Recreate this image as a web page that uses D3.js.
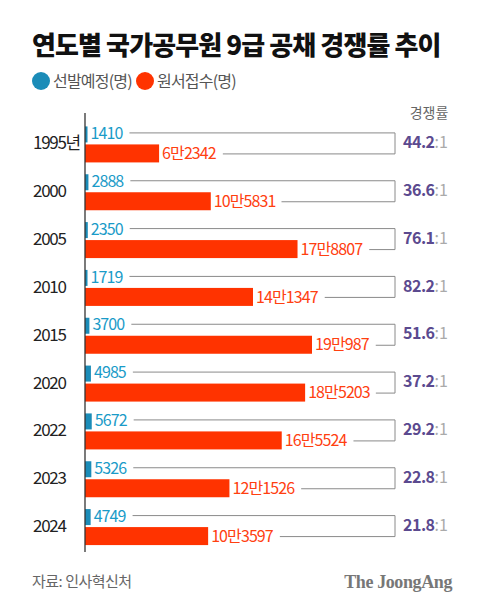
<!DOCTYPE html>
<html><head><meta charset="utf-8">
<script src="https://cdn.jsdelivr.net/npm/d3@7"></script>
<style>
body{margin:0;background:#fff;}
svg{display:block;font-family:"Noto Sans CJK KR","Noto Sans",sans-serif;}
</style></head>
<body>
<svg id="c" width="480" height="610"></svg>
<script>
const years = ["1995년","2000","2005","2010","2015","2020","2022","2023","2024"];
const selected = [1410,2888,2350,1719,3700,4985,5672,5326,4749];
const applied = [62342,105831,178807,141347,190987,185203,165524,121526,103597];
const appliedLabels = ["6만2342","10만5831","17만8807","14만1347","19만987","18만5203","16만5524","12만1526","10만3597"];
const ratios = ["44.2","36.6","76.1","82.2","51.6","37.2","29.2","22.8","21.8"];

const svg = d3.select("#c");
const BLUE="#1b8cb8", BLUE_T="#1a9bc8", RED="#ff3300", RED_T="#ff4010", PURPLE="#5b4a8f";

// Title
svg.append("text").attr("x",32).attr("y",55).attr("font-size",26).attr("font-weight",900)
  .attr("fill","#111").attr("letter-spacing",-0.9).text("연도별 국가공무원 9급 공채 경쟁률 추이");

// Legend
const leg=[{c:BLUE,t:"선발예정(명)",x:41},{c:RED,t:"원서접수(명)",x:145}];
leg.forEach(l=>{
  svg.append("circle").attr("cx",l.x).attr("cy",81).attr("r",9).attr("fill",l.c);
  svg.append("text").attr("x",l.x+12).attr("y",81).attr("dy","0.35em").attr("font-size",16)
    .attr("fill","#555").attr("letter-spacing",-0.8).text(l.t);
});

// header
svg.append("text").attr("x",429).attr("y",113).attr("dy","0.35em").attr("text-anchor","middle")
  .attr("font-size",14).attr("fill","#666").text("경쟁률");

const x = d3.scaleLinear().domain([0,190987]).range([85,312]);
const y = d3.scaleBand().domain(years).range([119.5,550]).paddingInner(0).paddingOuter(0);
const cy = d => y(d)+y.bandwidth()/2;

const g = svg.append("g");
const rows = g.selectAll("g.row").data(years.map((yr,i)=>({yr,i}))).join("g");

// year labels
rows.append("text").attr("x",33).attr("y",d=>cy(d.yr)).attr("dy","0.35em").attr("font-size",17)
  .attr("fill","#222").attr("letter-spacing",-1.3).text(d=>d.yr);

// bars
rows.append("rect").attr("x",x(0)).attr("y",d=>cy(d.yr)-17).attr("height",16)
  .attr("width",d=>Math.max(2.5,x(selected[d.i])-x(0))).attr("fill",BLUE);
rows.append("rect").attr("x",x(0)).attr("y",d=>cy(d.yr)+1).attr("height",18)
  .attr("width",d=>x(applied[d.i])-x(0)).attr("fill",RED);

const bx = 395;
// labels
rows.append("text").attr("x",d=>Math.max(x(0)+2.5,x(selected[d.i]))+3).attr("y",d=>cy(d.yr)-10)
  .attr("dy","0.35em").attr("font-size",16).attr("fill",BLUE_T).attr("letter-spacing",-0.9)
  .text(d=>selected[d.i]);
rows.append("text").attr("x",d=>x(applied[d.i])+3).attr("y",d=>cy(d.yr)+10)
  .attr("dy","0.35em").attr("font-size",16).attr("fill",RED_T).attr("letter-spacing",-0.9)
  .text(d=>appliedLabels[d.i]);

// brackets + ratios
rows.each(function(d){
  const r=d3.select(this);
  const be = r.selectAll("text").nodes()[1].getBBox();
  const re = r.selectAll("text").nodes()[2].getBBox();
  const t = cy(d.yr)-10.5, b = cy(d.yr)+10.5;
  const x1 = be.x+be.width+6, x2 = re.x+re.width+6;
  r.append("path").attr("d",`M${x1},${t}H${bx}V${b}H${x2}`).attr("fill","none")
    .attr("stroke","#8a8a8a").attr("stroke-width",1);
  const tx = r.append("text").attr("x",403).attr("y",cy(d.yr)-1).attr("dy","0.35em").attr("font-size",16);
  tx.append("tspan").attr("font-weight",700).attr("fill",PURPLE).attr("letter-spacing",-0.5).text(ratios[d.i]);
  tx.append("tspan").attr("fill","#aaa").text(":1");
});

// axis line
svg.append("line").attr("x1",85).attr("x2",85).attr("y1",113).attr("y2",552)
  .attr("stroke","#333").attr("stroke-width",1.3);

// footer
svg.append("text").attr("x",32).attr("y",582).attr("dy","0.35em").attr("font-size",15)
  .attr("fill","#666").attr("letter-spacing",-0.5).text("자료: 인사혁신처");
svg.append("text").attr("x",452).attr("y",582).attr("dy","0.35em").attr("text-anchor","end")
  .attr("font-size",18).attr("font-weight",700).attr("font-family","'Liberation Serif','DejaVu Serif',serif")
  .attr("fill","#777").attr("letter-spacing",-0.4).text("The JoongAng");
</script>
</body></html>
